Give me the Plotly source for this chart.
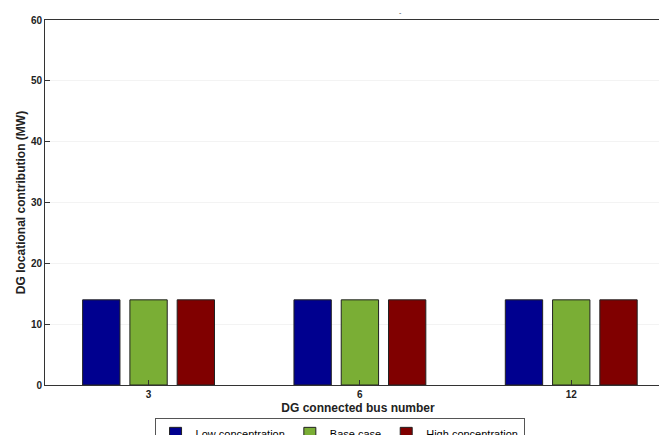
import plotly.graph_objects as go

categories = ["3", "6", "12"]
low_conc = [14, 14, 14]
base_case = [14, 14, 14]
high_conc = [14, 14, 14]
y_ticks = [0, 10, 20, 30, 40, 50, 60]

fig = go.Figure()
xs = [0, 1, 2]
for name, vals, col in [("Low concentration", low_conc, "#00008F"),
                        ("Base case", base_case, "#7AAE35"),
                        ("High concentration", high_conc, "#800000")]:
    fig.add_trace(go.Bar(x=xs, y=vals, name=name, marker=dict(color=col, line=dict(color="#222222", width=1))))

fig.update_layout(
    width=667, height=435,
    margin=dict(l=37, r=4, t=12, b=58, autoexpand=False),
    paper_bgcolor="white", plot_bgcolor="white",
    barmode="group", bargap=0.329, bargroupgap=0.21,
    font=dict(family="Liberation Sans, Arial", color="#222222"),
    showlegend=True,
    legend=dict(orientation="h", x=0.175, y=-0.09, xanchor="left", yanchor="top",
                bordercolor="#555555", borderwidth=1, bgcolor="rgba(255,255,255,0)",
                font=dict(size=11, color="black"), itemwidth=30, tracegroupgap=0),
    xaxis=dict(range=[-0.49, 2.472], tickmode="array", tickvals=xs,
               ticktext=["<b>%s</b>" % c for c in categories],
               showline=True, linecolor="#333333", mirror=True, ticks="inside", ticklen=5,
               tickcolor="#333333", showgrid=False, zeroline=False,
               tickfont=dict(size=10, color="#222222", family="Liberation Sans, Arial"),
               title=dict(text="<b>DG connected bus number</b>", font=dict(size=12), standoff=4)),
    yaxis=dict(range=[0, 60], tickmode="array", tickvals=y_ticks,
               ticktext=["<b>%d</b>" % v for v in y_ticks],
               showline=True, linecolor="#333333", mirror=True, ticks="inside", ticklen=5,
               tickcolor="#333333", showgrid=True, gridcolor="#f3f3f3", zeroline=False,
               tickfont=dict(size=10, color="#222222"),
               title=dict(text="<b>DG locational contribution (MW)</b>", font=dict(size=12), standoff=2)),
)
fig.add_annotation(text="-", x=0.568, y=1.0, xref="paper", yref="paper", yanchor="bottom",
                   showarrow=False, font=dict(size=7, color="#444444"), yshift=2)
fig.write_html("out.html")
